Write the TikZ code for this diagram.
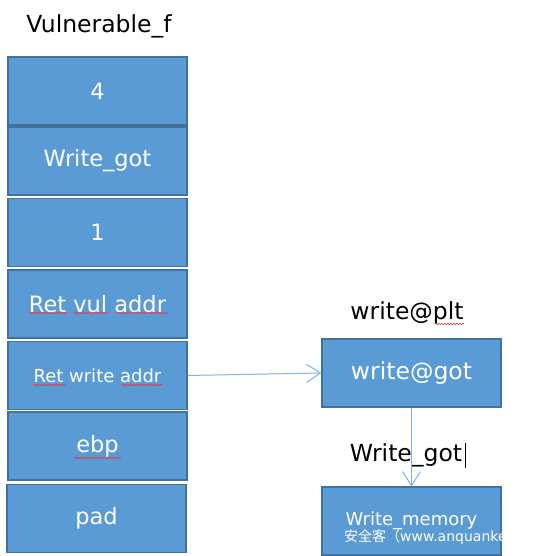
\documentclass[tikz,border=0pt]{standalone}
\usepackage{fontspec}
\setmainfont{DejaVu Sans}
\newfontfamily\cjk{Noto Sans CJK SC}
\usetikzlibrary{arrows.meta, positioning, decorations.pathmorphing}

\definecolor{boxblue}{HTML}{5B9BD5}
\definecolor{boxedge}{HTML}{41719C}
\definecolor{linkblue}{HTML}{7FB1E2}
\definecolor{spellred}{HTML}{E03C3C}

\begin{document}
\begin{tikzpicture}[x=1pt, y=-1pt,
    stackbox/.style={rectangle, draw=boxedge, fill=boxblue, line width=1.1pt, minimum width=179pt, minimum height=68pt, text=white, font=\fontsize{22.5}{27}\selectfont, inner sep=0pt},
    gotbox/.style={stackbox, minimum width=179pt},
    smalltext/.style={font=\fontsize{18}{22}\selectfont},
    plainlabel/.style={font=\fontsize{23.5}{28}\selectfont, text=black, inner sep=0pt},
    link/.style={draw=linkblue, line width=1pt, -{Straight Barb[length=14pt, width=18pt]}},
    squiggle/.style={draw=spellred, line width=0.6pt, decorate, decoration={snake, amplitude=0.8pt, segment length=3pt}}
]
    \useasboundingbox (0,0) rectangle (560,556);

    % Stack of vulnerable function
    \node (title) [plainlabel] at (99,26) {Vulnerable\_f};
    \node (arg3) [stackbox] at (97.5,91) {4};
    \node (arg2) [stackbox] at (97.5,161) {Write\_got};
    \node (arg1) [stackbox] at (97.5,232.5) {1};
    \node (retvul) [stackbox] at (97.5,304) {Ret vul addr};
    \node (retwrite) [stackbox, smalltext] at (97.5,375.5) {Ret write addr};
    \node (ebp) [stackbox] at (97.5,446) {ebp};
    \node (pad) [stackbox] at (96.5,518.5) {pad};

    % write@plt side
    \node (plt) [plainlabel] at (407,313) {write@plt};
    \node (wgot) [gotbox, font=\fontsize{23.5}{28}\selectfont] at (411.5,373) {write@got};
    \node (gotlbl) [plainlabel] at (406,455) {Write\_got};
    \node (wmem) [gotbox, smalltext] at (411.5,521) {Write\_memory};

    % Connections
    \draw [link] (retwrite.east) -- (wgot.west);
    \draw [link] (wgot.south) -- (wmem.north);

    % Text cursor
    \draw [line width=1pt] (465,443) -- (465,468);

    % Spell check marks
    \draw [squiggle] (29,313) -- (67,313);
    \draw [squiggle] (73,313) -- (108,313);
    \draw [squiggle] (116,313) -- (168,313);
    \draw [squiggle] (33,385) -- (65,385);
    \draw [squiggle] (121,385) -- (163,385);
    \draw [squiggle] (74,458) -- (121,458);
    \draw [squiggle] (435,324) -- (464,324);

    % Watermark
    \node (mark) [anchor=west, text=white, inner sep=0pt, font=\fontsize{14}{17}\selectfont] at (344,537) {{\cjk 安全客（}www.anquanke};
\end{tikzpicture}
\end{document}
